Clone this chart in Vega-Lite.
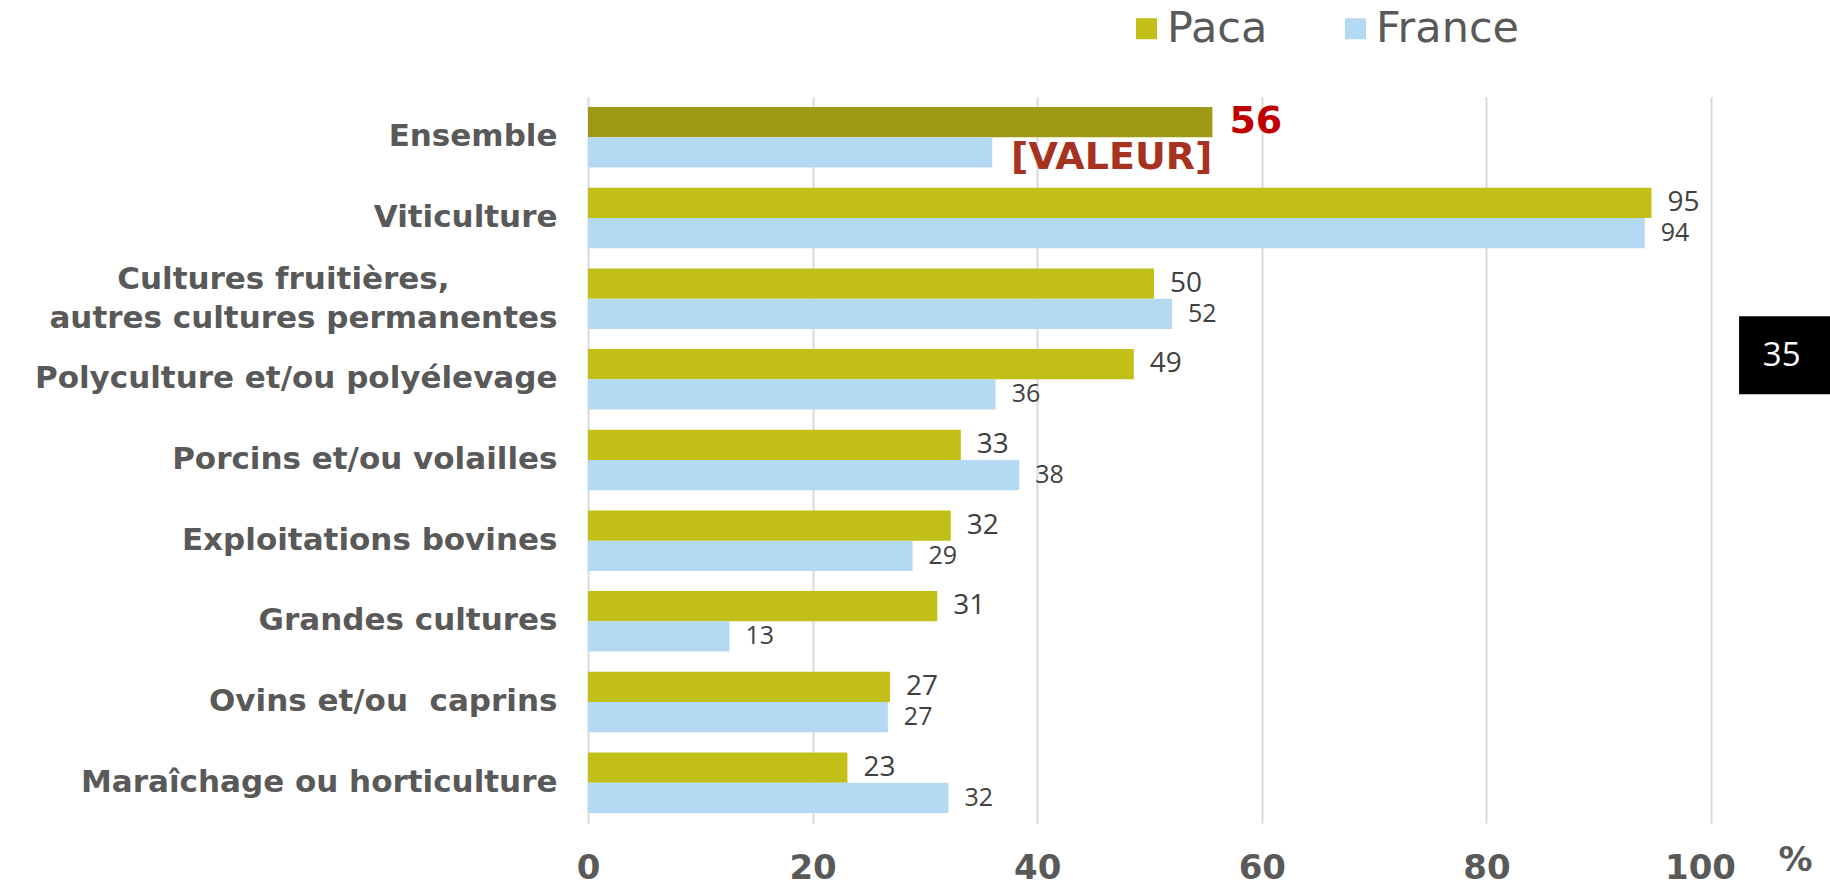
{
  "$schema": "https://vega.github.io/schema/vega-lite/v6.json",
  "autosize": {"type": "none"},
  "width": 1123,
  "height": 726,
  "padding": {"left": 588, "top": 97, "right": 119, "bottom": 57},
  "background": "white",
  "config": {"view": {"stroke": null}},
  "datasets": {
    "page": [{"page": "35", "cat": "Polyculture et/ou polyélevage", "xa": 102.5, "xb": 110.6, "xm": 106.3}]
  },
  "data": {
    "values": [
      {"cat": "Ensemble", "serie": "Paca", "value": 55.6},
      {"cat": "Ensemble", "serie": "France", "value": 36.0},
      {"cat": "Viticulture", "serie": "Paca", "value": 94.7},
      {"cat": "Viticulture", "serie": "France", "value": 94.1},
      {"cat": "Cultures fruitières, autres cultures permanentes", "serie": "Paca", "value": 50.4},
      {"cat": "Cultures fruitières, autres cultures permanentes", "serie": "France", "value": 52.0},
      {"cat": "Polyculture et/ou polyélevage", "serie": "Paca", "value": 48.6},
      {"cat": "Polyculture et/ou polyélevage", "serie": "France", "value": 36.3},
      {"cat": "Porcins et/ou volailles", "serie": "Paca", "value": 33.2},
      {"cat": "Porcins et/ou volailles", "serie": "France", "value": 38.4},
      {"cat": "Exploitations bovines", "serie": "Paca", "value": 32.3},
      {"cat": "Exploitations bovines", "serie": "France", "value": 28.9},
      {"cat": "Grandes cultures", "serie": "Paca", "value": 31.1},
      {"cat": "Grandes cultures", "serie": "France", "value": 12.6},
      {"cat": "Ovins et/ou  caprins", "serie": "Paca", "value": 26.9},
      {"cat": "Ovins et/ou  caprins", "serie": "France", "value": 26.7},
      {"cat": "Maraîchage ou horticulture", "serie": "Paca", "value": 23.1},
      {"cat": "Maraîchage ou horticulture", "serie": "France", "value": 32.1}
    ]
  },
  "encoding": {
    "y": {
      "field": "cat",
      "type": "nominal",
      "scale": {
        "domain": ["Ensemble", "Viticulture", "Cultures fruitières, autres cultures permanentes", "Polyculture et/ou polyélevage", "Porcins et/ou volailles", "Exploitations bovines", "Grandes cultures", "Ovins et/ou  caprins", "Maraîchage ou horticulture"],
        "paddingInner": 0.25,
        "paddingOuter": 0.125
      },
      "axis": {
        "title": null,
        "domain": false,
        "ticks": false,
        "tickSize": 0,
        "labelPadding": 31,
        "labelFont": "DejaVu Sans",
        "labelFontWeight": "bold",
        "labelFontSize": 31,
        "labelColor": "#595959",
        "labelLimit": 0,
        "labelLineHeight": 39,
        "labelOffset": {"condition": {"test": "datum.value === 'Cultures fruitières, autres cultures permanentes'", "value": -19}, "value": 0},
        "labelExpr": "datum.value === 'Cultures fruitières, autres cultures permanentes' ? ['Cultures fruitières,\u00a0\u00a0\u00a0\u00a0\u00a0\u00a0\u00a0\u00a0\u00a0\u00a0\u200b', 'autres cultures permanentes'] : replace(datum.label, '  ', '\u00a0 ')"
      }
    }
  },
  "layer": [
    {
      "mark": {"type": "bar", "strokeWidth": 0},
      "encoding": {
        "x": {
          "field": "value",
          "type": "quantitative",
          "scale": {"domain": [0, 100], "nice": false},
          "axis": {
            "values": [0, 20, 40, 60, 80, 100],
            "grid": true,
            "gridColor": "#D9D9D9",
            "gridWidth": 2,
            "domain": false,
            "ticks": false,
            "tickSize": 0,
            "labelFlush": false,
            "labelOffset": {"condition": {"test": "datum.value === 100", "value": -11}, "value": 0},
            "labelFont": "DejaVu Sans",
            "labelFontWeight": "bold",
            "labelFontSize": 34,
            "labelColor": "#595959",
            "labelBaseline": "middle",
            "labelPadding": 45,
            "title": "%",
            "titleFont": "DejaVu Sans",
            "titleFontWeight": "bold",
            "titleFontSize": 34,
            "titleColor": "#595959",
            "titleAngle": 0,
            "titleAlign": "center",
            "titleBaseline": "middle",
            "titleX": 1207,
            "titleY": 37
          }
        },
        "yOffset": {"field": "serie", "type": "nominal", "scale": {"domain": ["Paca", "France"], "paddingInner": 0, "paddingOuter": 0}},
        "color": {
          "condition": {"test": "datum.cat === 'Ensemble' && datum.serie === 'Paca'", "value": "#9E9A16"},
          "field": "serie",
          "type": "nominal",
          "scale": {"domain": ["Paca", "France"], "range": ["#C2BF17", "#B4D9F2"]},
          "legend": {
            "title": null,
            "orient": "none",
            "direction": "horizontal",
            "legendX": 537,
            "legendY": -90,
            "padding": 0,
            "symbolType": "square",
            "symbolSize": 441,
            "symbolStrokeWidth": 0,
            "labelFont": "DejaVu Sans",
            "labelFontSize": 43,
            "labelColor": "#595959",
            "labelOffset": -1,
            "columnPadding": 66,
            "labelLimit": 0
          }
        }
      }
    },
    {
      "transform": [{"filter": "datum.cat !== 'Ensemble' && datum.serie === 'Paca'"}],
      "mark": {"type": "text", "align": "left", "baseline": "middle", "dx": 16, "font": "Open Sans", "fontSize": 28, "color": "#404040"},
      "encoding": {
        "x": {"field": "value", "type": "quantitative"},
        "yOffset": {"field": "serie", "type": "nominal", "scale": {"domain": ["Paca", "France"], "paddingInner": 0, "paddingOuter": 0}},
        "text": {"field": "value", "type": "quantitative", "format": ".0f"}
      }
    },
    {
      "transform": [{"filter": "datum.cat !== 'Ensemble' && datum.serie === 'France'"}],
      "mark": {"type": "text", "align": "left", "baseline": "middle", "dx": 16, "font": "Open Sans", "fontSize": 25, "color": "#404040"},
      "encoding": {
        "x": {"field": "value", "type": "quantitative"},
        "yOffset": {"field": "serie", "type": "nominal", "scale": {"domain": ["Paca", "France"], "paddingInner": 0, "paddingOuter": 0}},
        "text": {"field": "value", "type": "quantitative", "format": ".0f"}
      }
    },
    {
      "transform": [{"filter": "datum.cat === 'Ensemble' && datum.serie === 'Paca'"}],
      "mark": {"type": "text", "align": "left", "baseline": "middle", "dx": 17, "font": "DejaVu Sans", "fontWeight": "bold", "fontSize": 38, "color": "#C00000"},
      "encoding": {
        "x": {"field": "value", "type": "quantitative"},
        "yOffset": {"field": "serie", "type": "nominal", "scale": {"domain": ["Paca", "France"], "paddingInner": 0, "paddingOuter": 0}},
        "text": {"field": "value", "type": "quantitative", "format": ".0f"}
      }
    },
    {
      "transform": [{"filter": "datum.cat === 'Ensemble' && datum.serie === 'Paca'"}],
      "mark": {"type": "text", "align": "right", "baseline": "middle", "dx": 0, "dy": 36, "font": "DejaVu Sans", "fontWeight": "bold", "fontSize": 38, "color": "#A83220"},
      "encoding": {
        "x": {"field": "value", "type": "quantitative"},
        "yOffset": {"field": "serie", "type": "nominal", "scale": {"domain": ["Paca", "France"], "paddingInner": 0, "paddingOuter": 0}},
        "text": {"value": "[VALEUR]"}
      }
    },
    {
      "data": {"name": "page"},
      "mark": {"type": "bar", "color": "black", "height": 78, "yOffset": -24, "clip": false},
      "encoding": {
        "x": {"field": "xa", "type": "quantitative"},
        "x2": {"field": "xb"}
      }
    },
    {
      "data": {"name": "page"},
      "mark": {"type": "text", "color": "white", "font": "Open Sans", "fontSize": 33, "align": "center", "baseline": "middle", "dy": -23, "clip": false},
      "encoding": {
        "text": {"field": "page", "type": "nominal"},
        "x": {"field": "xm", "type": "quantitative"}
      }
    }
  ]
}
